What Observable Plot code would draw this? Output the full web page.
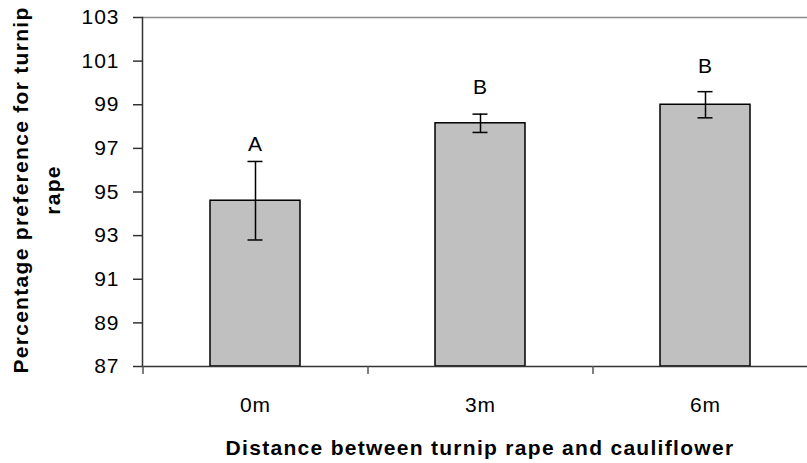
<!DOCTYPE html>
<html><head><meta charset="utf-8">
<script src="https://cdn.jsdelivr.net/npm/d3@7"></script>
<script src="https://cdn.jsdelivr.net/npm/@observablehq/plot@0.6"></script>
<style>html,body{margin:0;padding:0;background:#fff;overflow:hidden}</style>
</head><body><div id="chart"></div>
<script>
const categories = ["0m", "3m", "6m"];
const means = [94.6, 98.15, 99.0];
const errors = [1.8, 0.42, 0.6];
const letters = ["A", "B", "B"];
const letterAt = [96.87, 99.47, 100.46];
const yTicks = [87, 89, 91, 93, 95, 97, 99, 101, 103];
const yTitle = "Percentage preference for turnip\nrape";
const xTitle = "Distance between turnip rape and cauliflower";

const data = categories.map((c, i) => ({
  dist: c, mean: means[i], lo: means[i] - errors[i], hi: means[i] + errors[i],
  letter: letters[i], ly: letterAt[i]
}));
const yMin = yTicks[0], yMax = yTicks[yTicks.length - 1];

const chart = Plot.plot({
  width: 807, height: 463,
  marginLeft: 142, marginRight: -10, marginTop: 17, marginBottom: 97,
  style: {fontFamily: "'Liberation Sans', Arial, sans-serif", fontSize: "21px", background: "white", color: "black", letterSpacing: "1px"},
  x: {type: "band", domain: categories, paddingInner: 0.6, paddingOuter: 0.3, axis: null, label: null},
  y: {domain: [yMin, yMax], axis: null, label: null},
  marks: [
    Plot.ruleY([yMax], {stroke: "#8c8c8c", strokeWidth: 1.5}),
    Plot.barY(data, {x: "dist", y1: yMin, y2: "mean", fill: "#c0c0c0", stroke: "black", strokeWidth: 1.5}),
    Plot.ruleX(data, {x: "dist", y1: "lo", y2: "hi", stroke: "black", strokeWidth: 1.5}),
    Plot.tickY(data, {x: "dist", y: "lo", insetLeft: 37.5, insetRight: 37.5, stroke: "black", strokeWidth: 1.5}),
    Plot.tickY(data, {x: "dist", y: "hi", insetLeft: 37.5, insetRight: 37.5, stroke: "black", strokeWidth: 1.5}),
    Plot.text(data, {x: "dist", y: "ly", text: "letter", lineAnchor: "bottom", fontSize: 21, fill: "black"}),
    Plot.ruleY([yMin], {stroke: "#333", strokeWidth: 1.5}),
    Plot.frame({anchor: "left", stroke: "#333", strokeWidth: 1.5}),
    Plot.axisY({ticks: yTicks, tickSize: 9, tickPadding: 14, fontSize: 21, tickFormat: d => d, stroke: "#333", strokeWidth: 1.5, color: "black", label: null}),
    Plot.axisX({tickSize: 8, text: null, dx: -112.5, stroke: "#555", strokeWidth: 1.5, label: null}),
    Plot.axisX({tickSize: 0, tickPadding: 31, fontSize: 21, color: "black", label: null}),
    Plot.text([xTitle], {frameAnchor: "bottom", dy: 74, lineAnchor: "top", textAnchor: "middle", fontWeight: "bold", fontSize: 21, fill: "black"}),
    Plot.text([yTitle], {frameAnchor: "left", rotate: -90, dx: -109, dy: -2, textAnchor: "middle", lineAnchor: "middle", fontWeight: "bold", fontSize: 21, lineHeight: 1.52, fill: "black"})
  ]
});
d3.select(chart).selectAll("text").filter(function () { return /Distance|Percentage|rape$/.test(this.textContent); }).style("letter-spacing", "1.3px");
document.getElementById("chart").appendChild(chart);
</script>
</body></html>
